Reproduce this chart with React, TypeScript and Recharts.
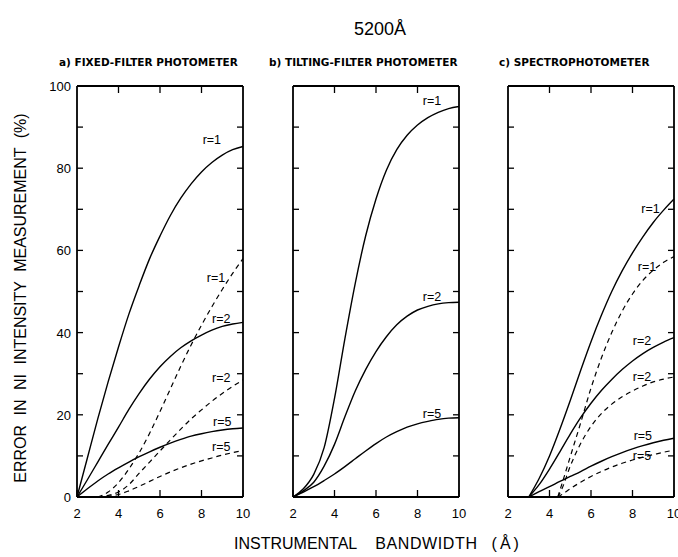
import React from 'react';
import { LineChart, Line, XAxis, YAxis, ReferenceDot } from 'recharts';

// bandwidth grids (Å)
const xsFull = [2, 2.5, 3, 3.5, 4, 4.5, 5, 5.5, 6, 6.5, 7, 7.5, 8, 8.5, 9, 9.5, 10];
const xsFrom3 = [3, 3.5, 4, 4.5, 5, 5.5, 6, 6.5, 7, 7.5, 8, 8.5, 9, 9.5, 10];
const xsFrom44 = [4.4, 4.6, 5, 5.5, 6, 6.5, 7, 7.5, 8, 8.5, 9, 9.5, 10];

// a) fixed-filter photometer
const aSolid1 = [0, 9.5, 19, 28, 36.5, 44.5, 51.5, 58, 63.5, 68.5, 72.7, 76.2, 79.1, 81.4, 83.2, 84.5, 85.3];
const aSolid2 = [0, 4.2, 8.5, 12.8, 17, 21.3, 25.2, 28.7, 31.7, 34.2, 36.3, 38, 39.4, 40.6, 41.5, 42.1, 42.5];
const aSolid5 = [0, 2, 3.9, 5.6, 7.1, 8.5, 9.8, 11, 12.1, 13.1, 14, 14.8, 15.4, 15.9, 16.3, 16.6, 16.8];
const aDash1 = [0, 1.2, 3.5, 6.8, 10.8, 15.5, 20.8, 26.3, 31.8, 37, 41.8, 46.3, 50.5, 54.4, 58];
const aDash2 = [0, 0.4, 1.2, 3, 5.8, 8.5, 11.2, 13.9, 16.5, 19, 21.2, 23.3, 25.2, 26.9, 28.5];
const aDash5 = [0, 0.2, 0.6, 1.5, 2.6, 3.8, 5, 6.1, 7.1, 8, 8.8, 9.5, 10.2, 10.8, 11.3];

// b) tilting-filter photometer
const bSolid1 = [0, 2, 5.5, 12, 24, 38.5, 52, 63.5, 72.5, 79.5, 84.5, 88, 90.5, 92.3, 93.6, 94.5, 95];
const bSolid2 = [0, 1.5, 3.6, 7.5, 12.8, 19.5, 25.8, 31, 35.4, 39, 41.9, 44, 45.5, 46.4, 47, 47.3, 47.4];
const bSolid5 = [0, 1.2, 2.5, 4, 5.6, 7.4, 9.3, 11.2, 13, 14.6, 15.9, 17, 17.8, 18.4, 18.9, 19.2, 19.3];

// c) spectrophotometer
const cSolid1 = [0, 4.5, 10, 16.5, 23.5, 30.8, 37.8, 44.2, 50, 55, 59.4, 63.3, 66.8, 69.8, 72.5];
const cSolid2 = [0, 3, 6.8, 11, 15.3, 19.3, 22.8, 25.9, 28.6, 31, 33.1, 34.9, 36.4, 37.7, 38.8];
const cSolid5 = [0, 1.3, 2.5, 3.8, 5, 6.2, 7.5, 8.7, 9.8, 10.8, 11.7, 12.5, 13.2, 13.8, 14.3];
const cDash1 = [0, 3.2, 9.8, 18, 26.5, 33.8, 40, 45.2, 49.4, 52.7, 55.2, 57.1, 58.5];
const cDash2 = [0, 2, 7.5, 13, 17.2, 20.3, 22.6, 24.4, 25.8, 27, 28, 28.7, 29.2];
const cDash5 = [0, 0.6, 2, 3.6, 5, 6.2, 7.3, 8.2, 9, 9.7, 10.3, 10.9, 11.4];

// curve labels [x, y, text]
const aLabels: [number, number, string][] = [[8.5, 87, 'r=1'], [8.7, 53.5, 'r=1'], [8.95, 43.5, 'r=2'], [8.95, 29, 'r=2'], [9, 18.3, 'r=5'], [8.95, 12.3, 'r=5']];
const bLabels: [number, number, string][] = [[8.7, 96.5, 'r=1'], [8.7, 48.7, 'r=2'], [8.7, 20.3, 'r=5']];
const cLabels: [number, number, string][] = [[8.87, 70.2, 'r=1'], [8.7, 56, 'r=1'], [8.46, 38.1, 'r=2'], [8.46, 29.2, 'r=2'], [8.5, 15, 'r=5'], [8.46, 10.1, 'r=5']];

const xTicks = [2, 4, 6, 8, 10];
const yTicks = [0, 10, 20, 30, 40, 50, 60, 70, 80, 90, 100];

const toPts = (xs: number[], ys: number[]) => xs.map((x, i) => ({ x, y: ys[i] }));

const FONT = '"Liberation Sans", Arial, sans-serif';
const PANEL_TOP = 86;
const PANEL_H = 411;
const PANEL_W = 166;
const AX_L = 30, AX_R = 10, AX_T = 10, AX_B = 30;

const BottomTick = (p: any) => (
    <g>
        <line x1={p.x} y1={p.y} x2={p.x} y2={p.y - 7} stroke="#000" strokeWidth={1.3} />
        <text x={p.x} y={p.y + 21} textAnchor="middle" fontSize={13} fontFamily={FONT} fill="#000">{p.payload.value}</text>
    </g>
);
const TopTick = (p: any) => <line x1={p.x} y1={p.y} x2={p.x} y2={p.y + 7} stroke="#000" strokeWidth={1.3} />;
const LeftTick = (showLabel: boolean) => (p: any) => (
    <g>
        <line x1={p.x} y1={p.y} x2={p.x + 6} y2={p.y} stroke="#000" strokeWidth={1.3} />
        {showLabel && p.payload.value % 20 === 0 && (
            <text x={p.x - 6} y={p.y + 5} textAnchor="end" fontSize={13} fontFamily={FONT} fill="#000">{p.payload.value}</text>
        )}
    </g>
);
const RightTick = (p: any) => <line x1={p.x} y1={p.y} x2={p.x - 6} y2={p.y} stroke="#000" strokeWidth={1.3} />;

type Series = { data: { x: number; y: number }[]; dashed?: boolean };

const Panel = ({ left, series, labels, showY }: { left: number; series: Series[]; labels: [number, number, string][]; showY?: boolean }) => (
    <div style={{ position: 'absolute', left: left - AX_L, top: PANEL_TOP - AX_T }}>
        <LineChart width={AX_L + PANEL_W + AX_R} height={AX_T + PANEL_H + AX_B} margin={{ top: 0, right: 0, bottom: 0, left: 0 }}>
            <XAxis xAxisId="b" type="number" dataKey="x" domain={[2, 10]} ticks={xTicks} height={AX_B} tickSize={0} tickMargin={0}
                tickLine={false} axisLine={{ stroke: '#000', strokeWidth: 1.8 }} tick={BottomTick} interval={0} allowDataOverflow />
            <XAxis xAxisId="t" orientation="top" type="number" dataKey="x" domain={[2, 10]} ticks={[4, 6, 8]} height={AX_T} tickSize={0} tickMargin={0}
                tickLine={false} axisLine={{ stroke: '#000', strokeWidth: 1.8 }} tick={TopTick} interval={0} allowDataOverflow />
            <YAxis yAxisId="l" type="number" domain={[0, 100]} ticks={yTicks} width={AX_L} tickSize={0} tickMargin={0}
                tickLine={false} axisLine={{ stroke: '#000', strokeWidth: 1.8 }} tick={LeftTick(!!showY)} interval={0} allowDataOverflow />
            <YAxis yAxisId="r" orientation="right" type="number" domain={[0, 100]} ticks={yTicks.slice(1, -1)} width={AX_R} tickSize={0} tickMargin={0}
                tickLine={false} axisLine={{ stroke: '#000', strokeWidth: 1.8 }} tick={RightTick} interval={0} allowDataOverflow />
            {series.map((s, i) => (
                <Line key={i} xAxisId="b" yAxisId="l" data={s.data} dataKey="y" type="monotone" stroke="#000"
                    strokeWidth={s.dashed ? 1.2 : 1.4} strokeDasharray={s.dashed ? '5 4' : undefined}
                    dot={false} activeDot={false} isAnimationActive={false} />
            ))}
            {labels.map(([x, y, t], i) => (
                <ReferenceDot key={'l' + i} xAxisId="b" yAxisId="l" x={x} y={y} r={0} fill="none" stroke="none"
                    label={{ value: t, position: 'center', fontSize: 12.5, fontFamily: FONT, fill: '#000' }} />
            ))}
        </LineChart>
    </div>
);

const App = () => {
    const seriesA: Series[] = [
        { data: toPts(xsFull, aSolid1) }, { data: toPts(xsFull, aSolid2) }, { data: toPts(xsFull, aSolid5) },
        { data: toPts(xsFrom3, aDash1), dashed: true }, { data: toPts(xsFrom3, aDash2), dashed: true }, { data: toPts(xsFrom3, aDash5), dashed: true },
    ];
    const seriesB: Series[] = [
        { data: toPts(xsFull, bSolid1) }, { data: toPts(xsFull, bSolid2) }, { data: toPts(xsFull, bSolid5) },
    ];
    const seriesC: Series[] = [
        { data: toPts(xsFrom3, cSolid1) }, { data: toPts(xsFrom3, cSolid2) }, { data: toPts(xsFrom3, cSolid5) },
        { data: toPts(xsFrom44, cDash1), dashed: true }, { data: toPts(xsFrom44, cDash2), dashed: true }, { data: toPts(xsFrom44, cDash5), dashed: true },
    ];
    const panelTitle: React.CSSProperties = { position: 'absolute', top: 56, fontSize: 10.5, fontWeight: 'bold', fontFamily: '"DejaVu Sans", sans-serif', whiteSpace: 'nowrap', color: '#000' };
    return (
        <div style={{ position: 'absolute', left: 0, top: 0, width: 678, height: 557, overflow: 'hidden', background: '#fff', fontFamily: FONT }}>
            <div style={{ position: 'absolute', left: 354, top: 19, fontSize: 18, color: '#000' }}>5200Å</div>
            <div style={{ ...panelTitle, left: 59 }}>a) FIXED-FILTER PHOTOMETER</div>
            <div style={{ ...panelTitle, left: 269 }}>b) TILTING-FILTER PHOTOMETER</div>
            <div style={{ ...panelTitle, left: 499 }}>c) SPECTROPHOTOMETER</div>
            <Panel left={77} series={seriesA} labels={aLabels} showY />
            <Panel left={293} series={seriesB} labels={bLabels} />
            <Panel left={508} series={seriesC} labels={cLabels} />
            <div style={{ position: 'absolute', left: 21, top: 298, transform: 'translate(-50%, -50%) rotate(-90deg)', fontSize: 16, whiteSpace: 'nowrap', color: '#000', wordSpacing: 5 }}>
                ERROR IN NI INTENSITY MEASUREMENT (%)
            </div>
            <div style={{ position: 'absolute', left: 234, top: 535, fontSize: 16, whiteSpace: 'nowrap', color: '#000' }}>
                <span style={{ marginRight: 18 }}>INSTRUMENTAL</span>
                <span style={{ marginRight: 14, letterSpacing: 0.6 }}>BANDWIDTH</span>
                <span style={{ letterSpacing: 3 }}>(Å)</span>
            </div>
        </div>
    );
};

export default App;
